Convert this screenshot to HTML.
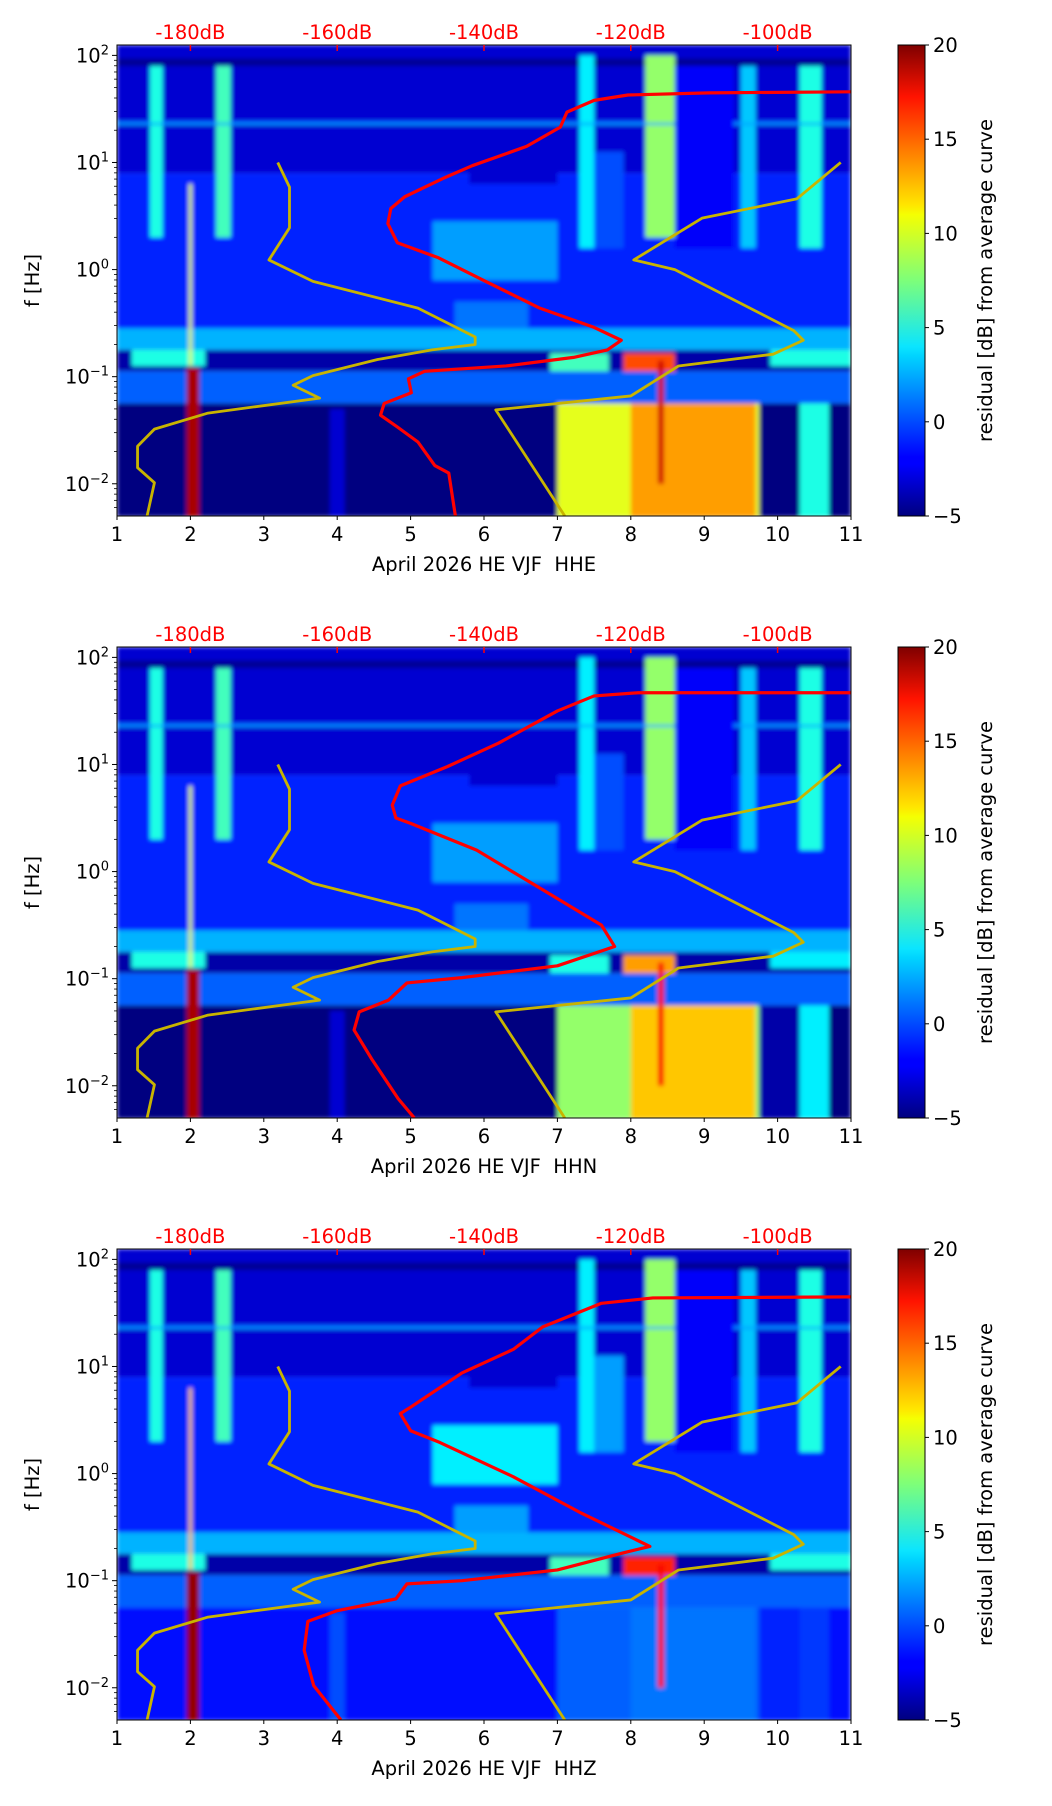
<!DOCTYPE html>
<html><head><meta charset="utf-8">
<style>
html,body{margin:0;padding:0;background:#fff;}
svg{display:block;font-family:"DejaVu Sans","Liberation Sans",sans-serif;}
</style></head>
<body>
<svg id="fig" width="1052" height="1806" viewBox="0 0 1052 1806" xmlns="http://www.w3.org/2000/svg">
<defs>
<filter id="soft" x="-5%" y="-5%" width="110%" height="110%"><feGaussianBlur stdDeviation="2"/></filter>
<linearGradient id="jetgrad" x1="0" y1="1" x2="0" y2="0">
<stop offset="0" stop-color="#00007f"/><stop offset="0.11" stop-color="#0000ff"/><stop offset="0.125" stop-color="#0000ff"/>
<stop offset="0.34" stop-color="#00d4ff"/><stop offset="0.36" stop-color="#0be5ff"/><stop offset="0.5" stop-color="#7dff7a"/>
<stop offset="0.64" stop-color="#f5ff02"/><stop offset="0.66" stop-color="#ffe600"/><stop offset="0.89" stop-color="#ff1300"/><stop offset="1" stop-color="#7f0000"/>
</linearGradient>
</defs>
</svg>
<script>
// ---------- data ----------
const panelLabels = ["April 2026 HE VJF\u00a0 HHE","April 2026 HE VJF\u00a0 HHN","April 2026 HE VJF\u00a0 HHZ"];
const dayTicks = [1,2,3,4,5,6,7,8,9,10,11];
const dbTicks = [-180,-160,-140,-120,-100];
const fExpTicks = [2,1,0,-1,-2];
const cbTicks = [20,15,10,5,0,-5];
// low noise model (day-axis position, log10 f)
const nlnmDay = [1.41,1.51,1.28,1.28,1.51,2.24,3.76,3.40,3.67,4.55,5.29,5.88,5.88,5.10,3.67,3.07,3.35,3.35,3.19];
const nlnmLogF = [-2.30,-1.99,-1.85,-1.65,-1.49,-1.34,-1.20,-1.08,-0.99,-0.84,-0.75,-0.70,-0.63,-0.36,-0.11,0.09,0.39,0.77,1.00];
// high noise model
const nhnmDay = [7.10,6.16,8.00,8.65,9.94,10.35,10.22,8.60,8.04,8.97,10.26,10.86];
const nhnmLogF = [-2.30,-1.31,-1.18,-0.90,-0.79,-0.66,-0.57,0.00,0.09,0.48,0.66,1.00];
// average curves per channel
const avgDayE = [5.61,5.52,5.33,5.10,4.82,4.59,4.64,5.01,4.97,5.19,6.30,7.22,7.68,7.87,7.50,6.76,6.02,5.38,4.82,4.69,4.73,4.92,5.47,5.84,6.58,7.04,7.13,7.50,7.96,9.06,11.0];
const avgLogFE = [-2.30,-1.90,-1.83,-1.61,-1.47,-1.36,-1.25,-1.15,-1.02,-0.95,-0.90,-0.82,-0.75,-0.66,-0.54,-0.36,-0.11,0.11,0.25,0.43,0.57,0.68,0.86,0.97,1.15,1.33,1.47,1.58,1.63,1.65,1.66];
const avgDayN = [5.05,4.83,4.47,4.23,4.30,4.70,4.95,5.70,7.00,7.78,7.60,6.80,5.90,5.00,4.80,4.75,4.86,5.50,6.20,7.00,7.50,8.10,11.0];
const avgLogFN = [-2.30,-2.12,-1.75,-1.48,-1.31,-1.20,-1.04,-0.99,-0.88,-0.70,-0.50,-0.17,0.20,0.45,0.50,0.62,0.80,0.98,1.20,1.50,1.64,1.67,1.67];
const avgDayZ = [4.05,3.68,3.55,3.60,4.00,4.80,4.95,5.70,7.00,7.90,8.26,7.30,6.40,5.40,5.00,4.86,5.00,5.70,6.40,6.80,7.60,8.30,11.0];
const avgLogFZ = [-2.30,-1.98,-1.65,-1.38,-1.28,-1.17,-1.03,-1.00,-0.90,-0.74,-0.68,-0.36,-0.03,0.29,0.40,0.56,0.62,0.94,1.16,1.37,1.59,1.64,1.65];
const avgDays = [avgDayE, avgDayN, avgDayZ];
const avgLogFs = [avgLogFE, avgLogFN, avgLogFZ];
// heatmap regions: day start/end, log10 f start/end, residual dB
const regDay0 = [1,1,1,1,1,1,1.2,6.9,7.9,9.9,1,1,5.3,7.3,1.45,2.35,7.3,8.2,9.5,10.3,3.9,7.0,8.0,9.75,10.3,1.95,8.37,1.0,5.6,8.6,5.8,1.98];
const regDay1 = [11,11,11,11,11,11,2.2,7.7,8.6,11,11,11,7.0,7.9,1.62,2.55,7.5,8.6,9.7,10.6,4.1,9.75,9.7,10.3,10.7,2.12,8.45,11,6.6,9.4,7.0,2.02];
const regF0 = [0.9,-0.55,-0.75,-0.95,-1.25,-2.31,-0.9,-0.95,-0.95,-0.9,1.90,1.36,-0.1,0.2,0.3,0.3,0.2,0.3,0.2,0.2,-2.31,-2.31,-2.31,-2.31,-2.31,-2.31,-2.0,1.35,-0.55,0.2,0.8,-0.9];
const regF1 = [2.1,0.9,-0.55,-0.75,-0.95,-1.25,-0.75,-0.78,-0.78,-0.75,1.97,1.39,0.45,1.1,1.9,1.9,2.0,2.0,1.9,1.9,-1.3,-1.25,-1.25,-1.25,-1.25,-0.92,-0.85,1.37,-0.3,1.9,1.3,0.8];
const regValE = [-3,-1,2.5,-4,0.5,-5,5,6,15,5,-4.5,0,2,0,5,6,4,8,3,5,-3,10,13,-5,5,19,18,2,1,-2,-3,10];
const regValN = [-3,-1,2.5,-4,0.5,-5,5,5,13,4,-4.5,0,2,0,5,6,4,8,3,5,-3,8,12,-4,4,19,17,2,1,-2,-3,10];
const regValZ = [-3,-1,2.5,-4,0.5,-1.5,5,6,16,5,-4.5,0,4,2,5,6,4,8,3,5,0,0.5,1,-1,-0.5,19.5,17,2,2,-2,-3,12];
const regVals = [regValE, regValN, regValZ];

// ---------- layout ----------
const PX0 = 117, PX1 = 851, PH = 471;
const tops = [45, 647, 1249];
const LF_TOP = 2.097, LF_BOT = -2.301;
const VMIN = -5, VMAX = 20;
const CBX = 898, CBW = 27;
const FS = 19.5;
const NS = "http://www.w3.org/2000/svg";
const svg = document.getElementById("fig");

function xScale(d){ return PX0 + (d-1)/10*(PX1-PX0); }
function yScale(lf, top){ return top + (LF_TOP-lf)/(LF_TOP-LF_BOT)*PH; }
function dbToDay(db){ return 2 + (db+180)/10; }
function cbScale(v, top){ return top + (VMAX-v)/(VMAX-VMIN)*PH; }
function jet(v){
  const t = Math.max(0, Math.min(1, (v-VMIN)/(VMAX-VMIN)));
  const c = x => Math.round(255*Math.max(0, Math.min(1, x)));
  const r = c(Math.min(4*t-1.5, -4*t+4.5));
  const g = c(Math.min(4*t-0.5, -4*t+3.5));
  const b = c(Math.min(4*t+0.5, -4*t+2.5));
  return `rgb(${r},${g},${b})`;
}
function mk(tag, attrs, parent){
  const e = document.createElementNS(NS, tag);
  for (const k in attrs) e.setAttribute(k, attrs[k]);
  (parent||svg).appendChild(e);
  return e;
}
function txt(s, attrs, parent){
  const e = mk("text", attrs, parent);
  e.textContent = s;
  return e;
}

tops.forEach((top, p) => {
  const g = mk("g", {});
  
  

  const cp = mk("clipPath", {id: "clip"+p}, g);
  mk("rect", {x: PX0, y: top, width: PX1-PX0, height: PH}, cp);

  const hm = mk("g", {"clip-path": `url(#clip${p})`}, g);
  
  
  const inner = mk("g", {filter: "url(#soft)"}, hm);
  const vals = regVals[p];
  for (let i = 0; i < regDay0.length; i++){
    const x0 = xScale(regDay0[i]), x1 = xScale(regDay1[i]);
    const y0 = yScale(regF1[i], top), y1 = yScale(regF0[i], top);
    const r = mk("rect", {x: x0, y: y0, width: Math.max(1, x1-x0), height: y1-y0, fill: jet(vals[i])}, inner);
    
    
  }

  const lp = nlnmDay.map((d,i)=>xScale(d)+","+yScale(nlnmLogF[i],top)).join(" ");
  const l1 = mk("polyline", {points: lp, fill: "none", stroke: "#c8b400", "stroke-width": 2.8, "stroke-linejoin": "round"}, hm);
  
  
  const hp = nhnmDay.map((d,i)=>xScale(d)+","+yScale(nhnmLogF[i],top)).join(" ");
  const l2 = mk("polyline", {points: hp, fill: "none", stroke: "#c8b400", "stroke-width": 2.8, "stroke-linejoin": "round"}, hm);
  
  
  const ad = avgDays[p], al = avgLogFs[p];
  const ap = ad.map((d,i)=>xScale(d)+","+yScale(al[i],top)).join(" ");
  const l3 = mk("polyline", {points: ap, fill: "none", stroke: "#ff0000", "stroke-width": 3.2, "stroke-linejoin": "round"}, hm);
  
  

  const fr = mk("rect", {x: PX0, y: top, width: PX1-PX0, height: PH, fill: "none", stroke: "#000", "stroke-width": 1}, g);
  
  

  dayTicks.forEach(d => {
    const x = xScale(d);
    mk("line", {x1: x, x2: x, y1: top+PH, y2: top+PH+4, stroke: "#000"}, g);
    const t = txt(String(d), {x: x, y: top+PH+25, "text-anchor": "middle", "font-size": FS}, g);
    
    
  });
  const xl = txt(panelLabels[p], {x: (PX0+PX1)/2, y: top+PH+55, "text-anchor": "middle", "font-size": FS}, g);
  
  

  dbTicks.forEach(db => {
    const x = xScale(dbToDay(db));
    mk("line", {x1: x, x2: x, y1: top, y2: top+6, stroke: "#ff0000", "stroke-width": 1.5}, g);
    const t = txt(db + "dB", {x: x, y: top-6, "text-anchor": "middle", "font-size": FS, fill: "#ff0000"}, g);
    
    
  });

  fExpTicks.forEach(e => {
    const y = yScale(e, top);
    mk("line", {x1: PX0-5, x2: PX0, y1: y, y2: y, stroke: "#000"}, g);
    const t = txt("", {x: PX0-8, y: y+7, "text-anchor": "end", "font-size": FS}, g);
    
    
    const a = document.createElementNS(NS, "tspan"); a.textContent = "10"; t.appendChild(a);
    const b = document.createElementNS(NS, "tspan"); b.setAttribute("dy", -8); b.setAttribute("font-size", 13);
    b.textContent = e < 0 ? "\u2212" + (-e) : String(e); t.appendChild(b);
  });
  for (let e = -3; e <= 2; e++){
    for (let m = 2; m <= 9; m++){
      const lf = e + Math.log10(m);
      if (lf < LF_BOT || lf > LF_TOP) continue;
      const y = yScale(lf, top);
      mk("line", {x1: PX0-3, x2: PX0, y1: y, y2: y, stroke: "#000", "stroke-width": 0.8}, g);
    }
  }
  const yl = txt("f [Hz]", {x: 0, y: 0, "text-anchor": "middle", "font-size": FS, transform: `translate(39,${top+PH/2}) rotate(-90)`}, g);
  
  

  const cb = mk("rect", {x: CBX, y: top, width: CBW, height: PH, fill: "url(#jetgrad)", stroke: "#000", "stroke-width": 1}, g);
  
  
  cbTicks.forEach(v => {
    const y = cbScale(v, top);
    mk("line", {x1: CBX+CBW, x2: CBX+CBW+4, y1: y, y2: y, stroke: "#000"}, g);
    const t = txt(v < 0 ? "\u2212" + (-v) : String(v), {x: CBX+CBW+8, y: y+7, "font-size": FS}, g);
    
    
  });
  const cl = txt("residual [dB] from average curve", {x: 0, y: 0, "text-anchor": "middle", "font-size": FS, transform: `translate(992,${top+PH/2}) rotate(-90)`}, g);
  
  
});
</script>
</body></html>
